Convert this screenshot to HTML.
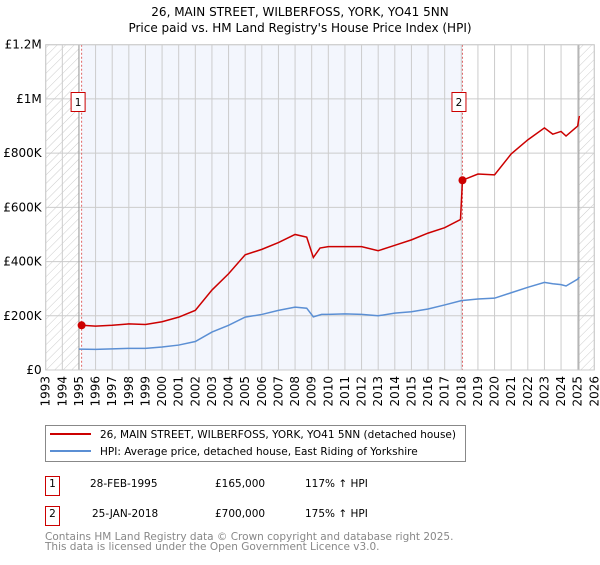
<!DOCTYPE html>
<html><head><meta charset="utf-8"><style>
body{margin:0;background:#fff;width:600px;height:560px;overflow:hidden}
svg{font-family:"DejaVu Sans","Liberation Sans",sans-serif}
</style></head><body>
<svg id="c" width="600" height="560" xmlns="http://www.w3.org/2000/svg">
<defs><pattern id="hatch" width="6" height="6" patternUnits="userSpaceOnUse" patternTransform="rotate(45)"><line x1="0" y1="0" x2="0" y2="6" stroke="#ccc" stroke-width="1"/></pattern></defs>
<text x="300" y="16" text-anchor="middle" font-size="12">26, MAIN STREET, WILBERFOSS, YORK, YO41 5NN</text>
<text x="300" y="32" text-anchor="middle" font-size="12">Price paid vs. HM Land Registry's House Price Index (HPI)</text>
<g id="plot"></g>
<g>
<rect x="45.5" y="425.5" width="420" height="36" fill="#fff" stroke="#888"/>
<line x1="50" y1="434" x2="91" y2="434" stroke="#cc0000" stroke-width="2"/>
<text x="100" y="438" font-size="10.5">26, MAIN STREET, WILBERFOSS, YORK, YO41 5NN (detached house)</text>
<line x1="50" y1="451" x2="91" y2="451" stroke="#5b8fd4" stroke-width="2"/>
<text x="100" y="455" font-size="10.5">HPI: Average price, detached house, East Riding of Yorkshire</text>
</g>
<g font-size="10.5">
<rect x="45.5" y="476.5" width="14" height="19" fill="#fff" stroke="#cc0000"/>
<text x="52.5" y="487" text-anchor="middle">1</text>
<text x="90" y="487">28-FEB-1995</text><text x="215" y="487">£165,000</text><text x="305" y="487">117% ↑ HPI</text>
<rect x="45.5" y="506.5" width="14" height="19" fill="#fff" stroke="#cc0000"/>
<text x="52.5" y="517" text-anchor="middle">2</text>
<text x="92" y="517">25-JAN-2018</text><text x="215" y="517">£700,000</text><text x="305" y="517">175% ↑ HPI</text>
</g>
<text x="45" y="540" font-size="10.5" fill="#888">Contains HM Land Registry data © Crown copyright and database right 2025.</text>
<text x="45" y="550" font-size="10.5" fill="#888">This data is licensed under the Open Government Licence v3.0.</text>
</svg>
<script>
const hpiYears=[1995,1996,1997,1998,1999,2000,2001,2002,2003,2004,2005,2006,2007,2008,2008.7,2009.1,2009.6,2010,2011,2012,2013,2014,2015,2016,2017,2018,2019,2020,2021,2022,2023,2023.5,2024,2024.3,2025,2025.1];
const hpiValues=[77000,76000,78000,80000,80000,85000,92000,105000,140000,165000,195000,205000,220000,232000,228000,196000,205000,205000,207000,205000,200000,210000,215000,225000,240000,256000,262000,265000,285000,305000,323000,318000,315000,310000,335000,343000];
const propYears=[1995.16,1996,1997,1998,1999,2000,2001,2002,2003,2004,2005,2006,2007,2008,2008.7,2009.1,2009.5,2010,2011,2012,2013,2014,2015,2016,2017,2017.95,2018.07,2019,2020,2021,2022,2023,2023.5,2024,2024.3,2025,2025.1];
const propValues=[165000,162000,165000,170000,168000,178000,195000,220000,295000,355000,425000,445000,470000,500000,490000,415000,450000,455000,455000,455000,440000,460000,480000,505000,525000,555000,700000,723000,720000,797000,849000,893000,870000,880000,863000,900000,937000];
const yTicks=[0,200000,400000,600000,800000,1000000,1200000];
const yTickLabels=["£0","£200K","£400K","£600K","£800K","£1M","£1.2M"];
const sales=[{n:"1",year:1995.16,value:165000},{n:"2",year:2018.07,value:700000}];
const X0=45.7,X1=594.3,Y0=370,Y1=44.7;
const xs=y=>X0+(y-1993)/33*(X1-X0);
const ys=v=>Y0-v/1200000*(Y0-Y1);
const NS="http://www.w3.org/2000/svg";
const g=document.getElementById('plot');
function mk(t,a,p){const e=document.createElementNS(NS,t);for(const k in a)e.setAttribute(k,a[k]);(p||g).appendChild(e);return e;}
let e;
e=mk('rect',{x:xs(sales[0].year),y:Y1,width:xs(sales[1].year)-xs(sales[0].year),height:Y0-Y1,fill:'#f3f6fd'});


e=mk('rect',{x:X0,y:Y1,width:xs(1995)-X0,height:Y0-Y1,fill:'url(#hatch)'});


e=mk('rect',{x:xs(2025.07),y:Y1,width:X1-xs(2025.07),height:Y0-Y1,fill:'url(#hatch)'});


for(let yr=1993;yr<=2026;yr++){
 e=mk('line',{x1:xs(yr),x2:xs(yr),y1:Y1,y2:Y0,stroke:'#ccc','stroke-width':1});
 
 
 e=mk('text',{x:0,y:0,'font-size':12,'text-anchor':'end',transform:`translate(${xs(yr)+4},${Y0+6}) rotate(-90)`});
 e.textContent=yr;
 
 
}
yTicks.forEach((v,i)=>{
 e=mk('line',{x1:X0,x2:X1,y1:ys(v),y2:ys(v),stroke:'#ccc','stroke-width':1});
 
 
 e=mk('text',{x:X0-4,y:ys(v)+4,'font-size':12,'text-anchor':'end'});
 e.textContent=yTickLabels[i];
 
 
});
e=mk('line',{x1:xs(1995),x2:xs(1995),y1:Y1,y2:Y0,stroke:'#999','stroke-width':1});


e=mk('line',{x1:xs(2025.07),x2:xs(2025.07),y1:Y1,y2:Y0,stroke:'#999','stroke-width':1});


sales.forEach(s=>{
 e=mk('line',{x1:xs(s.year),x2:xs(s.year),y1:Y1,y2:Y0,stroke:'#e06666','stroke-width':1,'stroke-dasharray':'2,2'});
 
 
});
e=mk('polyline',{points:hpiYears.map((y,i)=>xs(y)+','+ys(hpiValues[i])).join(' '),fill:'none',stroke:'#5b8fd4','stroke-width':1.5});


e=mk('polyline',{points:propYears.map((y,i)=>xs(y)+','+ys(propValues[i])).join(' '),fill:'none',stroke:'#cc0000','stroke-width':1.5});


sales.forEach(s=>{
 e=mk('circle',{cx:xs(s.year),cy:ys(s.value),r:4,fill:'#cc0000'});
 
 
 e=mk('rect',{x:xs(s.year)-10.5,y:92.5,width:14,height:19,fill:'#fff',stroke:'#cc0000'});
 
 
 e=mk('text',{x:xs(s.year)-3.5,y:106,'font-size':10.5,'text-anchor':'middle'});
 e.textContent=s.n;
 
 
});
e=mk('rect',{x:X0,y:Y1,width:X1-X0,height:Y0-Y1,fill:'none',stroke:'#ccc'});


</script>
</body></html>
